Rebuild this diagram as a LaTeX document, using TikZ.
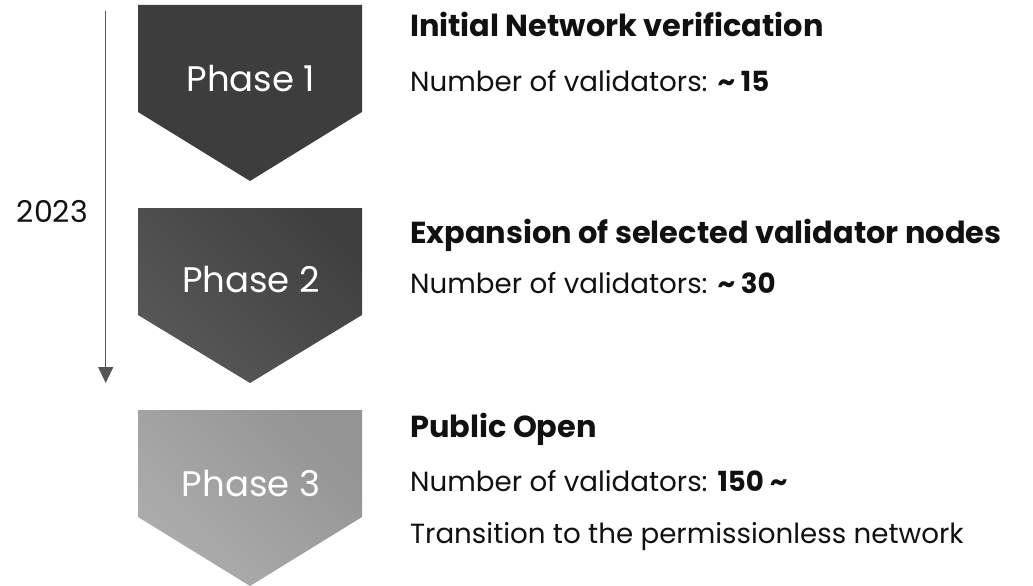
\documentclass[tikz,border=0pt]{standalone}
\usepackage{fontspec}
\setmainfont{Poppins}
\usetikzlibrary{arrows.meta}
\definecolor{pone}{HTML}{3D3D3D}
\definecolor{ptwoA}{HTML}{585858}
\definecolor{ptwoB}{HTML}{404040}
\definecolor{pthreeA}{HTML}{ADADAD}
\definecolor{pthreeB}{HTML}{949494}
\definecolor{timeline}{HTML}{555555}
\definecolor{ink}{HTML}{111111}
\begin{document}
\begin{tikzpicture}[x=1pt,y=-1pt,
  phasetext/.style={text=white,font=\fontsize{35.5}{38}\selectfont,inner sep=0pt,anchor=base},
  titletext/.style={text=ink,font=\fontsize{30.4}{33}\selectfont\bfseries,inner sep=0pt,anchor=base west},
  bodytext/.style={text=ink,font=\fontsize{27.7}{30}\selectfont,inner sep=0pt,anchor=base west},
  yeartext/.style={text=ink,font=\fontsize{30}{33}\selectfont,inner sep=0pt,anchor=base east},
  timelinestyle/.style={draw=timeline,line width=1.4pt,-{Triangle[length=16pt,width=15pt]}}]
\useasboundingbox (0,0) rectangle (1033,586);
% chevrons
\fill[pone] (138,5) -- (362,5) -- (362,112) -- (250,181) -- (138,112) -- cycle;
\shade[top color=ptwoB,bottom color=ptwoA,shading angle=-45] (138,208) -- (362,208) -- (362,315) -- (250,383) -- (138,315) -- cycle;
\shade[top color=pthreeB,bottom color=pthreeA,shading angle=-45] (138,410) -- (362,410) -- (362,517) -- (250,586) -- (138,517) -- cycle;
\node[phasetext] (ph1) at (251,92) {Phase 1};
\node[phasetext] (ph2) at (251,292) {Phase 2};
\node[phasetext] (ph3) at (251,496) {Phase 3};
% timeline
\coordinate (tlstart) at (105.7,11);
\coordinate (tlend) at (105.7,383);
\draw[timelinestyle] (tlstart) -- (tlend);
\node[yeartext] (year) at (88,222) {2023};
% texts
\node[titletext] (t1) at (410,37) {Initial Network verification};
\node[bodytext] (b1) at (410,92) {Number of validators: \textbf{\char"7E\ 15}};
\node[titletext] (t2) at (410,243) {Expansion of selected validator nodes};
\node[bodytext] (b2) at (410,293) {Number of validators: \textbf{\char"7E\ 30}};
\node[titletext] (t3) at (410,437) {Public Open};
\node[bodytext] (b3) at (410,491) {Number of validators: \textbf{150 \char"7E}};
\node[bodytext] (b4) at (410,543) {Transition to the permissionless network};
\end{tikzpicture}
\end{document}
